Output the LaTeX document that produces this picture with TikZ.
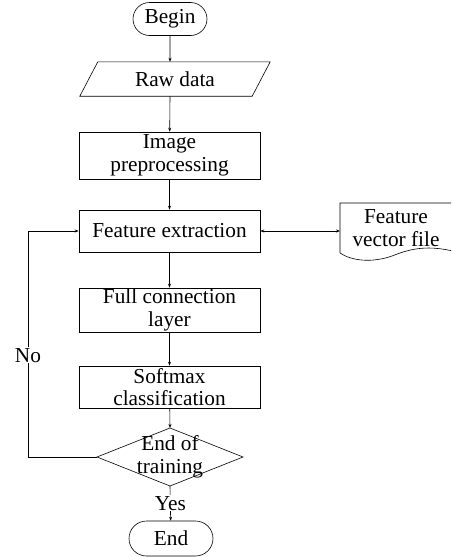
\documentclass[tikz,border=0pt]{standalone}
\usepackage{fontspec}
\setmainfont{Liberation Serif}
\usetikzlibrary{shapes.misc,arrows.meta}

\tikzset{
  line/.style={line width=0.6pt, draw=black},
  arr/.style={line, -{Stealth[length=4pt,width=3pt]}},
  proc/.style={line, rectangle, minimum width=181pt, align=center, inner sep=0pt},
  term/.style={line, rounded rectangle, inner sep=0pt},
  txt/.style={align=center, inner sep=0pt},
  lbl/.style={fill=white, inner sep=1pt},
}

\begin{document}
\begin{tikzpicture}[x=1pt, y=-1pt, font=\fontsize{21.3}{22.5}\selectfont]
\useasboundingbox (0,0) rectangle (451,557);

% start / end terminals
\node[term, minimum width=74pt, minimum height=33pt] (begin) at (170,19) {Begin};
\node[term, minimum width=84pt, minimum height=35pt] (end) at (171,538.5) {End};

% input parallelogram
\node[txt, minimum width=172pt, minimum height=34pt] (raw) at (175,79) {Raw data};
\draw[line] ([xshift=9pt]raw.north west) -- ([xshift=9pt]raw.north east)
  -- ([xshift=-9pt]raw.south east) -- ([xshift=-9pt]raw.south west) -- cycle;

% processing steps
\node[proc, minimum height=47pt] (pre) at (169.5,155.5) {Image\\preprocessing};
\node[proc, minimum height=42pt] (fe) at (169.5,231) {Feature extraction};
\node[proc, minimum height=44pt] (fc) at (169.5,310) {Full connection\\layer};
\node[proc, minimum height=42pt] (sm) at (169.5,387) {Softmax\\classification};

% decision diamond
\node[txt] (dec) at (170,457) {End of\\training};
\coordinate (decN) at (170,428);
\coordinate (decS) at (170,486);
\coordinate (decW) at (97,457);
\coordinate (decE) at (243,457);
\draw[line] (decN) -- (decE) -- (decS) -- (decW) -- cycle;

% stored feature vector file (document shape running off the right edge)
\begin{scope}
\clip (0,0) rectangle (451,557);
\draw[line] (470,203) -- (340,203) -- (340,253)
  .. controls (352,261) and (372,263) .. (392,256)
  .. controls (412,248) and (432,243) .. (470,256);
\end{scope}
\node[txt] (vf) at (396,228) {Feature\\vector file};
\coordinate (vfin) at (340,231);

% connectors
\draw[arr] (begin) -- (begin |- raw.north);
\draw[arr] (begin |- raw.south) -- (pre);
\draw[arr] (pre) -- (fe);
\draw[arr] (fe) -- (fc);
\draw[arr] (fc) -- (sm);
\draw[arr] (sm) -- (decN);
\draw[arr] (decS) -- node[lbl, pos=0.5] {Yes} (end);
\draw[arr] (decW) -- (28,457) -- node[lbl, pos=0.45] {No} (28,231) -- (fe.west);
\draw[line, {Stealth[length=4pt,width=3pt]}-{Stealth[length=4pt,width=3pt]}] (fe.east) -- (vfin);
\end{tikzpicture}
\end{document}
